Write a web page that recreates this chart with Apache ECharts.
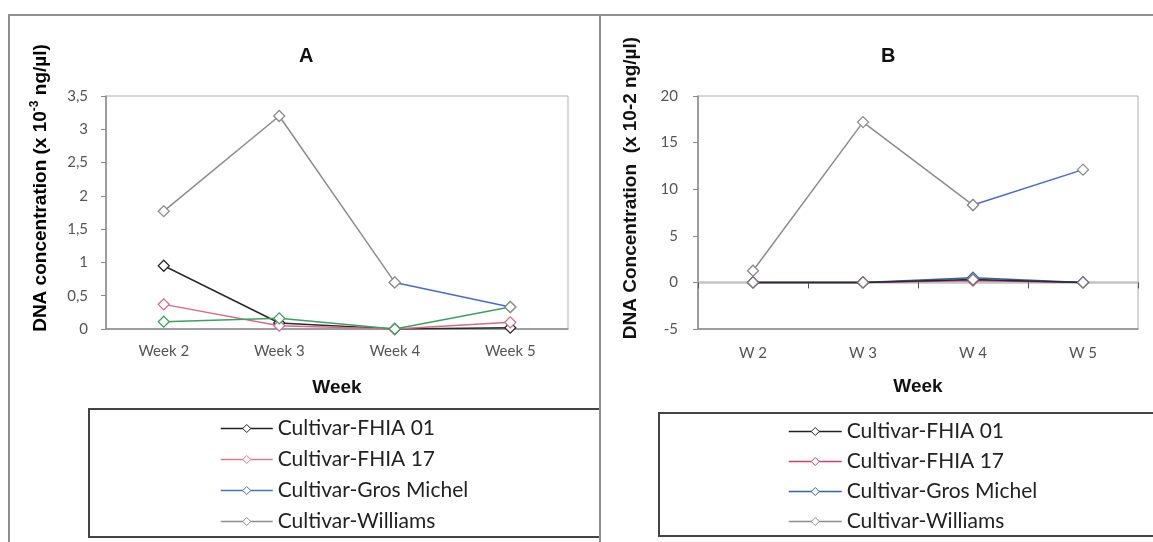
<!DOCTYPE html>
<html>
<head>
<meta charset="utf-8">
<script src="https://cdn.jsdelivr.net/npm/echarts@6/dist/echarts.min.js"></script>
<style>
html,body{margin:0;padding:0;background:#fff;}
#wrap{position:relative;width:1153px;height:542px;overflow:hidden;}
#a{position:absolute;left:0;top:0;width:599px;height:542px;}
#b{position:absolute;left:599px;top:0;width:554px;height:542px;}
</style>
</head>
<body>
<div id="wrap"><div id="a"></div><div id="b"></div></div>
<script>
// ---- data ----
const seriesNames = ['Cultivar-FHIA 01', 'Cultivar-FHIA 17', 'Cultivar-Gros Michel', 'Cultivar-Williams'];

const weeksA = ['Week 2', 'Week 3', 'Week 4', 'Week 5'];
const fhia01A = [0.95, 0.09, 0.0, 0.02];
const fhia17A = [0.37, 0.05, 0.0, 0.1];
const grosMichelA = [0.11, 0.16, 0.0, 0.33];
const williamsA = [1.77, 3.2, 0.7, 0.33];

const weeksB = ['W 2', 'W 3', 'W 4', 'W 5'];
const fhia01B = [0.0, 0.0, 0.3, 0.0];
const fhia17B = [0.0, 0.0, 0.2, 0.0];
const grosMichelB = [0.0, 0.0, 0.5, 0.0];
const williamsB = [1.25, 17.2, 8.3, 12.1];

const yTicksA = { min: 0, max: 3.5, interval: 0.5 };
const yTicksB = { min: -5, max: 20, interval: 5 };

// ---- helpers ----
const tickFont = 'Lato';
const legendFont = 'Lato';
const titleFont = 'Liberation Sans';

function lineSeries(name, data, color, extra) {
  return Object.assign({
    name: name,
    type: 'line',
    data: data,
    symbol: 'diamond',
    symbolSize: 11,
    showSymbol: true,
    lineStyle: { color: color, width: 1.5 },
    itemStyle: { color: '#ffffff', borderColor: color, borderWidth: 1.3 },
    emphasis: { disabled: true },
    animation: false,
    z: 3
  }, extra || {});
}
// last segment (W4 -> W5) of Williams appears blue in the source
function tailOnly(arr) { return arr.map((v, i) => (i >= arr.length - 2 ? v : '-')); }
function headOnly(arr) { return arr.map((v, i) => (i <= arr.length - 2 ? v : '-')); }

function legendCfg(left, top, itemWidth, gap, colors) {
  return {
    orient: 'vertical',
    left: left, top: top, padding: 0,
    itemWidth: itemWidth, itemHeight: 10, itemGap: gap,
    textStyle: { fontFamily: legendFont, fontSize: 21, color: '#222' },
    data: seriesNames.map((n, i) => ({ name: n, lineStyle: { color: colors[i], width: 1.5 }, itemStyle: { borderColor: colors[i], color: '#fff', borderWidth: 1 } })),
    selectedMode: false
  };
}

// ---------- Chart A ----------
const chartA = echarts.init(document.getElementById('a'), null, { renderer: 'canvas' });
chartA.setOption({
  animation: false,
  title: { text: 'A', left: 294, top: 41, textStyle: { fontFamily: titleFont, fontWeight: 'bold', fontSize: 20, color: '#111' } },
  grid: { left: 106, top: 96, width: 462, height: 233, show: true, borderColor: '#b0b0b0', borderWidth: 1, containLabel: false },
  xAxis: {
    type: 'category', data: weeksA, boundaryGap: true,
    axisLine: { show: true, lineStyle: { color: '#8a8a8a', width: 1.5 } },
    axisTick: { show: false },
    axisLabel: { fontFamily: tickFont, fontSize: 15, color: '#555', margin: 15 },
    name: 'Week', nameLocation: 'middle', nameGap: 49,
    nameTextStyle: { fontFamily: titleFont, fontWeight: 'bold', fontSize: 19, color: '#111' }
  },
  yAxis: {
    type: 'value', min: yTicksA.min, max: yTicksA.max, interval: yTicksA.interval,
    splitLine: { show: false },
    axisLine: { show: true, lineStyle: { color: '#8a8a8a', width: 1.5 } },
    axisTick: { show: true, length: 5, lineStyle: { color: '#8a8a8a' } },
    axisLabel: { fontFamily: tickFont, fontSize: 15, color: '#555', margin: 18,
      formatter: v => String(v).replace('.', ',') }
  },
  legend: legendCfg(220, 418, 52, 10, ['#222222', '#e07a96', '#4f6fb5', '#8c8c8c']),
  series: [
    lineSeries(seriesNames[0], fhia01A, '#2a2a2a'),
    lineSeries(seriesNames[1], fhia17A, '#d86a88'),
    lineSeries(seriesNames[2], grosMichelA, '#3f9f62'),
    lineSeries(seriesNames[3], headOnly(williamsA), '#8c8c8c'),
    lineSeries('Williams W4-W5', tailOnly(williamsA), '#4b68d0', { lineStyle: { color: '#4b68d0', width: 1.5 }, itemStyle: { color: '#fff', borderColor: '#8c8c8c', borderWidth: 1.3 } })
  ],
  graphic: [
    { type: 'rect', shape: { x: 9, y: 15, width: 700, height: 600 }, style: { fill: 'none', stroke: '#8f8f8f', lineWidth: 2 }, silent: true, z: -1 },
    { type: 'rect', shape: { x: 89, y: 409, width: 520, height: 128 }, style: { fill: 'none', stroke: '#444', lineWidth: 2 }, silent: true },
    { type: 'text', x: 41, y: 188, rotation: Math.PI / 2,
      style: { text: '{a|DNA concentration (x 10}{s|-3}{a| ng/µl)}', align: 'center', verticalAlign: 'middle',
        rich: { a: { fontFamily: titleFont, fontWeight: 'bold', fontSize: 19, color: '#111', lineHeight: 24 },
                s: { fontFamily: titleFont, fontWeight: 'bold', fontSize: 12, color: '#111', lineHeight: 24, verticalAlign: 'top', padding: [0, 0, 10, 0] } } }, silent: true }
  ]
});

// ---------- Chart B ----------
const chartB = echarts.init(document.getElementById('b'), null, { renderer: 'canvas' });
chartB.setOption({
  animation: false,
  title: { text: 'B', left: 277, top: 41, textStyle: { fontFamily: titleFont, fontWeight: 'bold', fontSize: 20, color: '#111' } },
  grid: { left: 99, top: 96, width: 440, height: 233, show: true, borderColor: '#b0b0b0', borderWidth: 1, containLabel: false },
  xAxis: [
    {
      type: 'category', data: weeksB, boundaryGap: true, position: 'bottom',
      axisLine: { show: true, onZero: false, lineStyle: { color: '#8a8a8a', width: 1.5 } },
      axisTick: { show: false },
      axisLabel: { fontFamily: tickFont, fontSize: 15, color: '#555', margin: 17 },
      name: 'Week', nameLocation: 'middle', nameGap: 48,
      nameTextStyle: { fontFamily: titleFont, fontWeight: 'bold', fontSize: 19, color: '#111' }
    },
    {
      type: 'category', data: weeksB, boundaryGap: true, position: 'bottom',
      axisLine: { show: true, onZero: true, lineStyle: { color: '#c4c4c4', width: 2.5 } },
      axisTick: { show: true, length: 6, lineStyle: { color: '#555', width: 1 } },
      axisLabel: { show: false }
    }
  ],
  yAxis: {
    type: 'value', min: yTicksB.min, max: yTicksB.max, interval: yTicksB.interval,
    splitLine: { show: false },
    axisLine: { show: true, onZero: false, lineStyle: { color: '#8a8a8a', width: 1.5 } },
    axisTick: { show: true, length: 5, lineStyle: { color: '#8a8a8a' } },
    axisLabel: { fontFamily: tickFont, fontSize: 15, color: '#555', margin: 20 }
  },
  legend: legendCfg(189, 421, 53, 9, ['#222222', '#c8406a', '#3563a8', '#8c8c8c']),
  series: [
    lineSeries(seriesNames[1], fhia17B, '#c8406a', { z: 2 }),
    lineSeries(seriesNames[2], grosMichelB, '#3563a8', { z: 2 }),
    lineSeries(seriesNames[0], fhia01B, '#2a2a2a', { z: 4, itemStyle: { color: '#fff', borderColor: '#777', borderWidth: 1.3 } }),
    lineSeries(seriesNames[3], headOnly(williamsB), '#8c8c8c'),
    lineSeries('Williams W4-W5', tailOnly(williamsB), '#4b68d0', { lineStyle: { color: '#4b68d0', width: 1.5 }, itemStyle: { color: '#fff', borderColor: '#8c8c8c', borderWidth: 1.3 } })
  ],
  graphic: [
    { type: 'rect', shape: { x: 1, y: 15, width: 700, height: 600 }, style: { fill: 'none', stroke: '#8f8f8f', lineWidth: 2 }, silent: true, z: -1 },
    { type: 'rect', shape: { x: 60, y: 413, width: 600, height: 123 }, style: { fill: 'none', stroke: '#444', lineWidth: 2 }, silent: true },
    { type: 'text', x: 32, y: 188, rotation: Math.PI / 2,
      style: { text: 'DNA Concentration  (x 10-2 ng/µl)', align: 'center', verticalAlign: 'middle',
        fontFamily: titleFont, fontWeight: 'bold', fontSize: 19, fill: '#111' }, silent: true }
  ]
});
</script>
</body>
</html>
